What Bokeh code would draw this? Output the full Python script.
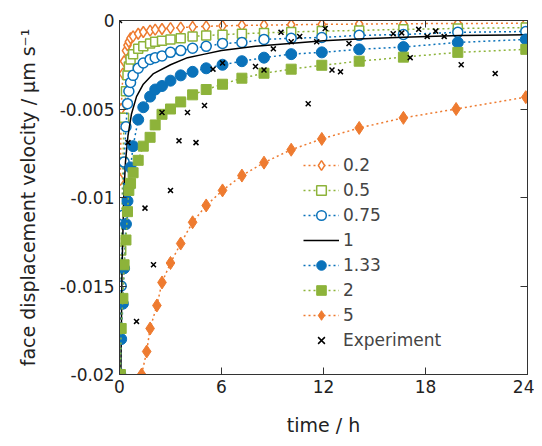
from bokeh.plotting import figure
from bokeh.models import LinearAxis, Legend, LegendItem, Range1d, FixedTicker
from bokeh.embed import file_html
from bokeh.resources import INLINE

# shared model time grid (h)
t = [0.05, 0.1, 0.2, 0.27, 0.38, 0.47, 0.55, 0.65, 0.8, 1.1, 1.4, 1.8, 2.1, 2.5,
     3.0, 3.6, 4.3, 5.1, 6.06, 7.2, 8.5, 10.1, 11.9, 14.1, 16.7, 19.9, 23.9]

v02 = [-0.009, -0.005, -0.003, -0.0023, -0.0017, -0.0014, -0.0012, -0.001, -0.0009,
       -0.00075, -0.00065, -0.00057, -0.00052, -0.00048, -0.00043, -0.0004, -0.00036,
       -0.00033, -0.0003, -0.00028, -0.00026, -0.00024, -0.00022, -0.0002, -0.00018,
       -0.00017, -0.00015]
v05 = [-0.02, -0.013, -0.008, -0.0055, -0.004, -0.0031, -0.0026, -0.0022, -0.0019,
       -0.0016, -0.00145, -0.0013, -0.0012, -0.00115, -0.00107, -0.001, -0.0009,
       -0.00085, -0.0008, -0.00075, -0.0007, -0.00065, -0.0006, -0.00056, -0.0005,
       -0.00045, -0.0004]
v075 = [-0.02, -0.015, -0.011, -0.008, -0.006, -0.0047, -0.004, -0.0035, -0.0031,
        -0.0027, -0.0024, -0.0022, -0.0021, -0.002, -0.0018, -0.0017, -0.00157,
        -0.00146, -0.0013, -0.00124, -0.00107, -0.001, -0.00096, -0.00084, -0.00079,
        -0.00067, -0.00062]
v133 = [-0.02, -0.018, -0.016, -0.014, -0.0115, -0.0102, -0.0094, -0.0083, -0.0071,
        -0.0056, -0.0049, -0.0043, -0.0039, -0.0037, -0.0034, -0.0031, -0.0029,
        -0.0027, -0.0025, -0.0023, -0.0021, -0.0019, -0.0018, -0.00163, -0.0015,
        -0.00124, -0.00107]
v2 = [-0.02, -0.0174, -0.0157, -0.0138, -0.0124, -0.0108, -0.0096, -0.0092, -0.0086,
      -0.0079, -0.0071, -0.0066, -0.0059, -0.0053, -0.005, -0.0046, -0.0042, -0.0039,
      -0.0036, -0.00326, -0.00298, -0.00275, -0.00253, -0.0023, -0.00207, -0.0018,
      -0.00163]

t5 = [1.3, 1.6, 1.8, 2.2, 2.5, 3.0, 3.6, 4.3, 5.1, 6.06, 7.2, 8.5, 10.1, 11.9,
      14.1, 16.7, 19.8, 23.9]
v5 = [-0.02, -0.0187, -0.0174, -0.0161, -0.0148, -0.0137, -0.0126, -0.0114, -0.01045,
      -0.0096, -0.00876, -0.00803, -0.0073, -0.00669, -0.00607, -0.0055, -0.005, -0.00433]

t1 = [0.08, 0.15, 0.25, 0.35, 0.5, 0.7, 1, 1.4, 2, 3, 4, 5, 6, 8, 10, 12, 14, 16.7, 20, 24]
v1 = [-0.02, -0.014, -0.01, -0.008, -0.0065, -0.0053, -0.0043, -0.0036, -0.003, -0.0025,
      -0.0021, -0.0019, -0.0017, -0.00145, -0.0013, -0.00115, -0.00105, -0.00095,
      -0.00085, -0.0008]

t_exp = [0, 0.5, 1.0, 1.5, 2.0, 2.5, 3.0, 3.5, 4.0, 4.5, 5.0, 5.5, 6.06, 8.0, 8.5, 9.05,
         9.5, 10.1, 10.6, 11.1, 11.6, 12.1, 12.5, 13.0, 13.5, 16.1, 16.6, 17.1, 17.6,
         18.1, 18.6, 19.1, 20.1, 22.1]
v_exp = [0, -0.0069, -0.017, -0.0106, -0.0138, -0.0052, -0.0096, -0.0068, -0.0052,
         -0.0069, -0.0048, -0.00275, -0.0024, -0.0026, -0.0028, -0.0016, -0.00067,
         -0.0012, -0.0009, -0.0047, -0.0012, -0.00045, -0.0028, -0.0029, -0.0013,
         -0.00075, -0.0007, -0.0021, -0.0005, -0.0009, -0.0006, -0.0009, -0.0025, -0.003]

orange = "#EE7B30"
green = "#8DB33A"
blue = "#0A72BA"
font = "DejaVu Sans"

p = figure(width=534, height=438, output_backend="svg", toolbar_location=None,
           x_range=Range1d(0, 24), y_range=Range1d(-0.02, 0),
           min_border_left=119, min_border_right=7, min_border_top=20,
           min_border_bottom=62)
p.grid.visible = False
p.outline_line_color = "#333333"
p.background_fill_color = "white"

items = []
series = [
    ("0.2", t, v02, "diamond", orange, "white", 11),
    ("0.5", t, v05, "square", green, "white", 9),
    ("0.75", t, v075, "circle", blue, "white", 10),
]
for label, xs, ys, marker, col, fill, size in series:
    l = p.line(xs, ys, line_color=col, line_dash="2 3", line_width=1.5)
    s = p.scatter(xs, ys, marker=marker, size=size, line_color=col, fill_color=fill,
                  line_width=1.5)
    items.append(LegendItem(label=label, renderers=[l, s]))

l1 = p.line(t1, v1, line_color="black", line_width=1.5)
items.append(LegendItem(label="1", renderers=[l1]))

series = [
    ("1.33", t, v133, "circle", blue, 11),
    ("2", t, v2, "square", green, 10),
    ("5", t5, v5, "diamond", orange, 13),
]
for label, xs, ys, marker, col, size in series:
    l = p.line(xs, ys, line_color=col, line_dash="2 3", line_width=1.5)
    s = p.scatter(xs, ys, marker=marker, size=size, line_color=col, fill_color=col)
    items.append(LegendItem(label=label, renderers=[l, s]))

ex = p.scatter(t_exp, v_exp, marker="x", size=7, line_color="black", line_width=1.5)
items.append(LegendItem(label="Experiment", renderers=[ex]))

legend = Legend(items=items, location=(184, 22), background_fill_alpha=0,
                border_line_alpha=0, label_text_font=font, label_text_font_size="17px",
                glyph_width=36, spacing=1, label_height=24, glyph_height=24,
                padding=0, margin=0, label_standoff=4)
p.add_layout(legend, "center")

xt = FixedTicker(ticks=[0, 6, 12, 18, 24])
yt = FixedTicker(ticks=[0, -0.005, -0.01, -0.015, -0.02])
p.xaxis.ticker = xt
p.yaxis.ticker = yt
p.yaxis.major_label_overrides = {0: "0", -0.005: "-0.005", -0.01: "-0.01",
                                 -0.015: "-0.015", -0.02: "-0.02"}
p.xaxis.axis_label = "time / h"
p.yaxis.axis_label = "face displacement velocity / µm s⁻¹"

for ax in p.axis:
    ax.major_label_text_font = font
    ax.major_label_text_font_size = "17px"
    ax.major_label_text_color = "#222222"
    ax.axis_label_text_font = font
    ax.axis_label_text_font_size = "19px"
    ax.axis_label_text_font_style = "normal"
    ax.axis_label_text_color = "#222222"
p.xaxis.axis_label_standoff = 18
p.yaxis.axis_label_standoff = 18

for side, tk in (("above", xt), ("right", yt)):
    ax = LinearAxis(ticker=tk, major_label_text_font_size="0px",
                    major_label_text_color=None, major_label_standoff=0)
    p.add_layout(ax, side)

for ax in p.axis:
    ax.major_tick_in = 7
    ax.major_tick_out = 0
    ax.minor_tick_line_color = None
    ax.axis_line_color = "#333333"
    ax.major_tick_line_color = "#333333"

open("out.html", "w").write(file_html(p, INLINE))
